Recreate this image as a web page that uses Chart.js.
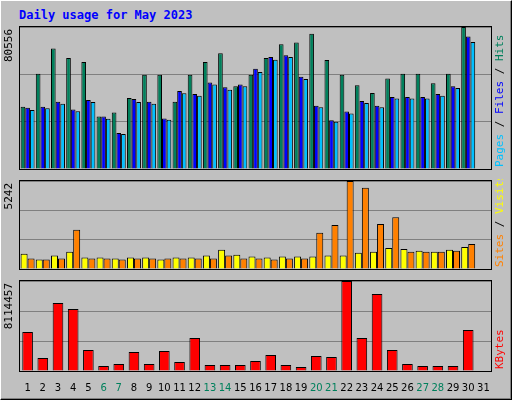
<!DOCTYPE html>
<html><head>
<script src="https://cdn.jsdelivr.net/npm/chart.js@4"></script>
<style>
body{margin:0;background:#fff}
#wrap{position:absolute;left:0;top:0;width:510px;height:398px;background:#c0c0c0;border:1px solid #000;border-top-color:#fff;border-left-color:#fff;box-shadow:inset -1px -1px 0 #808080}
#title{position:absolute;left:18px;top:7px;font:bold 12px "DejaVu Sans Mono",monospace;color:#0000ff}
canvas{position:absolute;left:0}
</style>
</head><body>
<div id="wrap">
<div id="title">Daily usage for May 2023</div>
<canvas id="c1" style="top:24px"></canvas>
<canvas id="c2" style="top:178px"></canvas>
<canvas id="c3" style="top:278px"></canvas>
</div>
<script>
const days = Array.from({length:31},(_,i)=>String(i+1));
const weekends = [6,7,13,14,20,21,27,28];
const hits = [35300,54100,68400,62900,60700,29800,32000,40300,53500,53500,38100,53500,60700,65700,46900,53500,62900,70700,71800,76700,61800,53500,47500,43100,51300,54100,54100,48600,54100,80556,0];
const files = [34800,35300,38100,33700,39200,29800,20400,39700,38100,28700,44200,42500,49100,46400,48000,56900,63500,64600,52400,35900,27600,32600,38600,35900,40800,40800,40800,42500,46900,75100,0];
const pages = [33500,34500,37000,32800,38000,28500,19800,38000,37000,28000,43000,41500,48000,45000,47000,55000,62000,63500,51000,35000,26800,31500,37500,35000,40000,40000,40000,41500,46000,72000,0];
const visits = [912,570,798,1026,684,684,627,684,684,570,684,684,798,1140,855,741,684,741,741,741,798,798,969,1026,1254,1197,1083,1026,1140,1311,0];
const sites = [627,570,627,2337,627,627,570,627,627,627,627,627,627,798,627,627,570,627,627,2166,2622,5242,4845,2679,3078,1026,1026,1026,1083,1482,0];
const kbytes = [3516000,1172000,6131000,5590000,1893000,451000,631000,1713000,631000,1803000,811000,2975000,541000,541000,541000,902000,1443000,541000,361000,1352000,1262000,8114457,2975000,6942000,1893000,631000,451000,451000,451000,3697000,0];

const PAD_L = 19, PAD_R = 22;

function sidePlugin(parts, maxLabel){
  return {
    id:'side',
    afterDraw(chart){
      const {ctx, chartArea:a} = chart;
      ctx.save();
      ctx.strokeStyle='#000'; ctx.lineWidth=1;
      ctx.strokeRect(a.left-0.5,a.top-0.5,a.right-a.left+1,a.bottom-a.top+1);
      ctx.font='11px "DejaVu Sans Mono",monospace';
      ctx.fillStyle='#000';
      ctx.translate(a.left-5,a.top+2);
      ctx.rotate(-Math.PI/2);
      ctx.textAlign='right'; ctx.textBaseline='bottom';
      ctx.fillText(maxLabel,0,0);
      ctx.restore();
      // right legend, reading bottom to top
      ctx.save();
      ctx.font='11px "DejaVu Sans Mono",monospace';
      ctx.translate(a.right+4,a.bottom-2);
      ctx.rotate(-Math.PI/2);
      ctx.textAlign='left'; ctx.textBaseline='top';
      let x=0;
      parts.forEach(([t,c])=>{ctx.fillStyle=c;ctx.fillText(t,x,0);x+=ctx.measureText(t).width;});
      ctx.restore();
    }
  };
}

function makeChart(id, h, datasets, max, parts, maxLabel, showX){
  const cv=document.getElementById(id);
  cv.width=512; cv.height=h; cv.style.width='512px'; cv.style.height=h+'px';
  return new Chart(cv,{
    type:'bar',
    data:{labels:days,datasets},
    options:{
      responsive:false,animation:false,
      layout:{padding:{left:PAD_L,right:PAD_R,top:2,bottom:showX?0:2}},
      plugins:{legend:{display:false},tooltip:{enabled:false}},
      datasets:{bar:{categoryPercentage:0.92,barPercentage:1,borderColor:'#000',borderWidth:1}},
      scales:{
        x:{grid:{display:false},border:{display:false},
           ticks:{display:showX,autoSkip:false,maxRotation:0,font:{family:'DejaVu Sans',size:10},
             color:c=>weekends.includes(c.index+1)?'#00805c':'#000'}},
        y:{min:0,max:max,border:{display:false},
           ticks:{display:false,stepSize:max/3},
           grid:{color:'#808080',drawTicks:false}}
      }
    },
    plugins:[sidePlugin(parts,maxLabel)]
  });
}

makeChart('c1',154,[
  {data:hits,backgroundColor:'#00805c'},
  {data:files,backgroundColor:'#0000ff'},
  {data:pages,backgroundColor:'#00c0ff'}
],80556,[['Pages','#00c0ff'],[' / ','#000'],['Files','#0000ff'],[' / ','#000'],['Hits','#00805c']],'80556',false);

makeChart('c2',100,[
  {data:visits,backgroundColor:'#ffff00'},
  {data:sites,backgroundColor:'#ff8000'}
],5242,[['Sites','#ff8000'],[' / ','#000'],['Visits','#ffff00']],'5242',false);

makeChart('c3',118,[
  {data:kbytes,backgroundColor:'#ff0000',categoryPercentage:0.7}
],8114457,[['KBytes','#ff0000']],'8114457',true);
</script>
</body></html>
